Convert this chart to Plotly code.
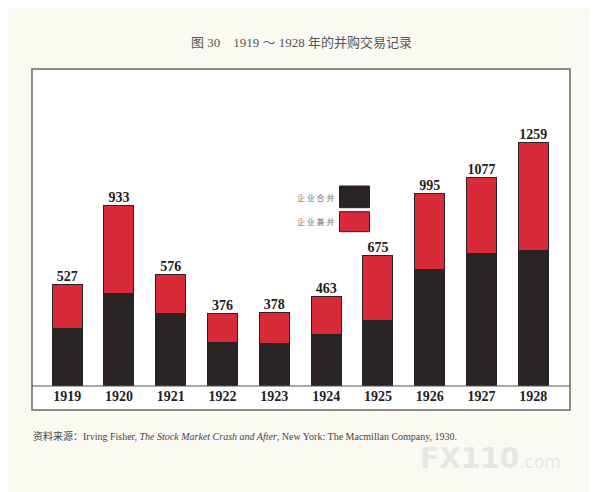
import plotly.graph_objects as go

years = ["1919", "1920", "1921", "1922", "1923", "1924", "1925", "1926", "1927", "1928"]
mergers = [296, 476, 374, 226, 221, 267, 340, 601, 687, 698]        # 企业合并 (black)
acquisitions = [231, 457, 202, 150, 157, 196, 335, 394, 390, 561]   # 企业兼并 (red)
totals = [527, 933, 576, 376, 378, 463, 675, 995, 1077, 1259]

xs = list(range(len(years)))

BLACK = "#2a2323"
RED = "#d92a3a"
SERIF = "Liberation Serif, Times New Roman, serif"
CJK = "Noto Sans CJK SC, sans-serif"

# page offset of the browser body (8px) is compensated in the margins
OFF = 8
L, T = 31.5, 69.0
PW, PH = 538.5, 317.0

def px(x):
    return (x - L) / PW

def py(y):
    return (386 - y) / PH

fig = go.Figure()
fig.add_trace(go.Bar(x=xs, y=mergers, name="企业合并", width=0.58,
                     marker=dict(color=BLACK, line=dict(color=BLACK, width=1))))
fig.add_trace(go.Bar(x=xs, y=acquisitions, name="企业兼并", width=0.58,
                     marker=dict(color=RED, line=dict(color=BLACK, width=1))))
fig.add_trace(go.Scatter(x=xs, y=totals, mode="text", text=[f"<b>{t}</b>" for t in totals],
                         textposition="top center", cliponaxis=False,
                         textfont=dict(family=SERIF, size=14, color="#222"),
                         showlegend=False, hoverinfo="skip"))

band = 24 / PH
shapes = [
    dict(type="rect", xref="paper", yref="paper", x0=0, x1=1, y0=-band, y1=1,
         fillcolor="#ffffff", line=dict(color="#6a6a66", width=1.5), layer="below"),
    dict(type="line", xref="paper", yref="paper", x0=0, x1=1, y0=0, y1=0,
         line=dict(color="#555", width=1.2)),
    dict(type="rect", xref="paper", yref="paper",
         x0=px(339.3), x1=px(369.3), y0=py(207.7), y1=py(186),
         fillcolor=BLACK, line=dict(color=BLACK, width=1)),
    dict(type="rect", xref="paper", yref="paper",
         x0=px(339.3), x1=px(369.3), y0=py(231.7), y1=py(211.7),
         fillcolor=RED, line=dict(color=BLACK, width=1)),
]

annotations = [
    dict(text="企 业 合 并", xref="paper", yref="paper", x=px(336), y=py(197),
         xanchor="right", yanchor="middle", showarrow=False,
         font=dict(family=CJK, size=8, color="#777")),
    dict(text="企 业 兼 并", xref="paper", yref="paper", x=px(336), y=py(221),
         xanchor="right", yanchor="middle", showarrow=False,
         font=dict(family=CJK, size=8, color="#777")),
    dict(text="图 30　1919 ～ 1928 年的并购交易记录", xref="paper", yref="paper",
         x=px(301), y=py(42), xanchor="center", yanchor="middle",
         showarrow=False, font=dict(family=SERIF + ", " + CJK, size=13, color="#555")),
    dict(text="<span style='font-family:Noto Sans CJK SC'>资料来源：</span>Irving Fisher, <i>The Stock Market Crash and After</i>, New York: The Macmillan Company, 1930.",
         xref="paper", yref="paper", x=px(30), y=py(436),
         xanchor="left", yanchor="middle", showarrow=False,
         font=dict(family=SERIF, size=10, color="#444")),
    dict(text="<b>FX110</b><span style='font-size:17px'>.com</span>", xref="paper", yref="paper",
         x=px(490), y=py(458), xanchor="center", yanchor="middle",
         showarrow=False, font=dict(family="DejaVu Sans, sans-serif", size=28, color="#e6e6e4")),
]

fig.update_layout(
    width=597 - OFF, height=492 - OFF,
    margin=dict(l=L - OFF, r=597 - (L + PW), t=T - OFF, b=492 - (T + PH)),
    paper_bgcolor="#fbfaf2", plot_bgcolor="rgba(0,0,0,0)",
    barmode="stack", showlegend=False,
    shapes=shapes, annotations=annotations,
    xaxis=dict(range=[-0.679, 9.708], tickmode="array", tickvals=xs,
               ticktext=[f"<b>{y}</b>" for y in years],
               showgrid=False, zeroline=False, showline=False, ticks="",
               tickfont=dict(family=SERIF, size=14, color="#222"), fixedrange=True),
    yaxis=dict(range=[0, 1638], showgrid=False, zeroline=False, showline=False,
               showticklabels=False, ticks="", fixedrange=True),
)

fig.write_html("out.html")
